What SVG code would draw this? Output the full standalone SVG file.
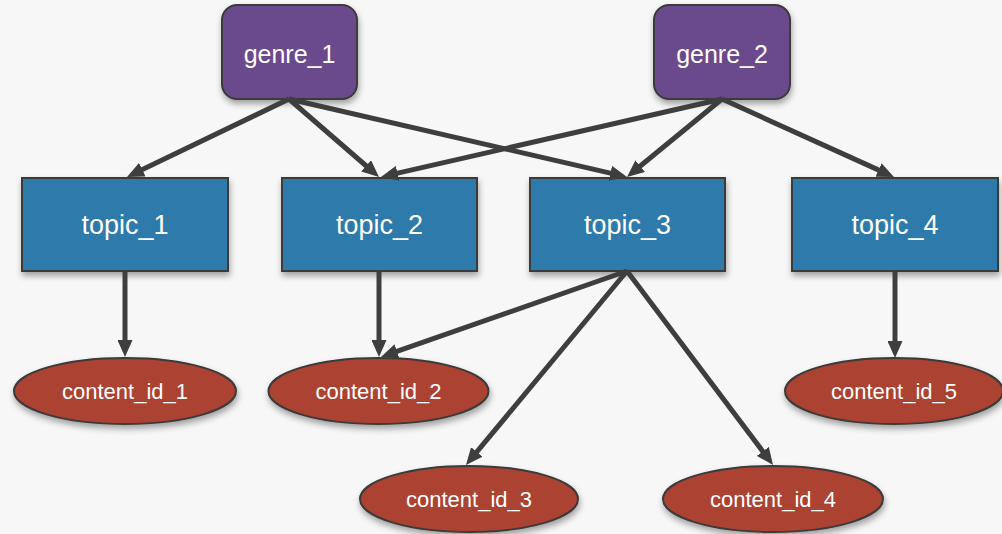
<svg xmlns="http://www.w3.org/2000/svg" width="1002" height="534" viewBox="0 0 1002 534">
  <defs>
    <filter id="shadow" x="-20%" y="-20%" width="140%" height="160%">
      <feDropShadow dx="1" dy="4" stdDeviation="3" flood-color="#000" flood-opacity="0.35"/>
    </filter>
    <marker id="arrow" markerUnits="userSpaceOnUse" markerWidth="17" markerHeight="15" refX="1" refY="7.5" orient="auto">
      <path d="M0,0 L17,7.5 L0,15 z" fill="#3e3e3e"/>
    </marker>
    <style>
      .bg { fill: #f7f7f7; }
      .genre { fill: #6a4a8c; stroke: #3a3a3a; stroke-width: 2; filter: url(#shadow); }
      .topic { fill: #2d7aaa; stroke: #3a3a3a; stroke-width: 2; filter: url(#shadow); }
      .content { fill: #ac4230; stroke: #3a3a3a; stroke-width: 2; filter: url(#shadow); }
      .lbl { fill: #ffffff; font-family: "Liberation Sans", Arial, sans-serif; text-anchor: middle; }
      .g { font-size: 25px; }
      .t { font-size: 27px; }
      .c { font-size: 22px; }
      .edge { stroke: #3e3e3e; stroke-width: 5; fill: none; marker-end: url(#arrow); }
    </style>
  </defs>
  <rect class="bg" x="0" y="0" width="1002" height="534"/>

  <g id="genre_1"><rect class="genre" x="222" y="5" width="135" height="94" rx="15"/><text class="lbl g" x="289.5" y="63">genre_1</text></g>
  <g id="genre_2"><rect class="genre" x="654" y="5" width="136" height="94" rx="15"/><text class="lbl g" x="722" y="63">genre_2</text></g>

  <g id="topic_1"><rect class="topic" x="22" y="178" width="206" height="93"/><text class="lbl t" x="125" y="234">topic_1</text></g>
  <g id="topic_2"><rect class="topic" x="282" y="178" width="195" height="93"/><text class="lbl t" x="379.5" y="234">topic_2</text></g>
  <g id="topic_3"><rect class="topic" x="530" y="178" width="195" height="93"/><text class="lbl t" x="627.5" y="234">topic_3</text></g>
  <g id="topic_4"><rect class="topic" x="792" y="178" width="206" height="93"/><text class="lbl t" x="895" y="234">topic_4</text></g>

  <g id="content_id_1"><ellipse class="content" cx="125" cy="391" rx="111" ry="33"/><text class="lbl c" x="125" y="399">content_id_1</text></g>
  <g id="content_id_2"><ellipse class="content" cx="378.5" cy="391" rx="110" ry="33"/><text class="lbl c" x="378.5" y="399">content_id_2</text></g>
  <g id="content_id_3"><ellipse class="content" cx="469" cy="499" rx="109" ry="33"/><text class="lbl c" x="469" y="507">content_id_3</text></g>
  <g id="content_id_4"><ellipse class="content" cx="773" cy="499" rx="110" ry="33"/><text class="lbl c" x="773" y="507">content_id_4</text></g>
  <g id="content_id_5"><ellipse class="content" cx="894" cy="391" rx="109" ry="33"/><text class="lbl c" x="894" y="399">content_id_5</text></g>

  <g id="connectors">
    <line class="edge" x1="289" y1="99" x2="141.4" y2="170.1"/>
    <line class="edge" x1="289" y1="99" x2="366.9" y2="166.5"/>
    <line class="edge" x1="289" y1="99" x2="611.4" y2="173.4"/>
    <line class="edge" x1="722" y1="99" x2="396.6" y2="173.4"/>
    <line class="edge" x1="722" y1="99" x2="639.4" y2="166.8"/>
    <line class="edge" x1="722" y1="99" x2="879.4" y2="170.4"/>
    <line class="edge" x1="125" y1="271" x2="125" y2="341"/>
    <line class="edge" x1="379" y1="271" x2="379" y2="341"/>
    <line class="edge" x1="627" y1="271" x2="396.1" y2="351.7"/>
    <line class="edge" x1="627" y1="271" x2="476.2" y2="452.7"/>
    <line class="edge" x1="627" y1="271" x2="763.4" y2="452.2"/>
    <line class="edge" x1="895" y1="271" x2="895" y2="342"/>
  </g>
</svg>
